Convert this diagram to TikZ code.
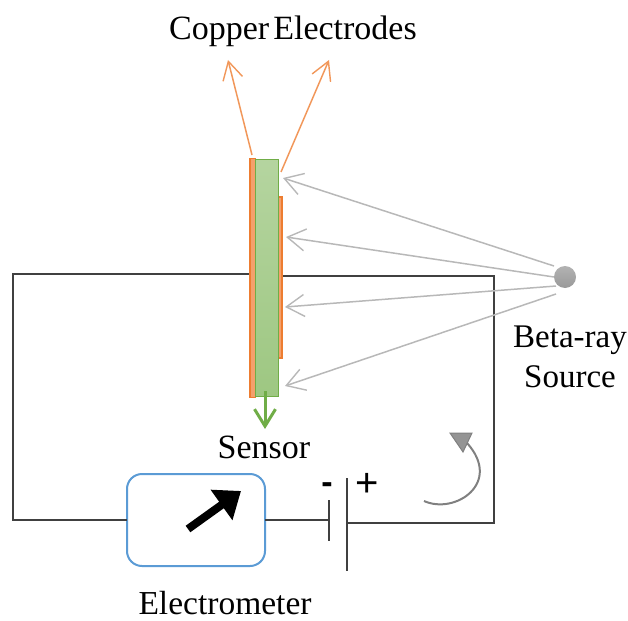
\documentclass[tikz,border=0pt]{standalone}
\usepackage{fontspec}
\setmainfont{Liberation Serif}
\newfontfamily\sansf{Liberation Sans}
\usetikzlibrary{arrows.meta,calc}
\definecolor{orangeE}{HTML}{ED7D31}
\definecolor{orangeF}{HTML}{F4A06C}
\definecolor{greenE}{HTML}{70AD47}
\definecolor{blueE}{HTML}{5B9BD5}
\tikzset{
  lbl/.style={inner sep=0pt,font=\fontsize{34}{40}\selectfont,text=black},
  wire/.style={draw=black!75,line width=1.4pt},
  ray/.style={draw=black!28,line width=1.5pt,-{Straight Barb[length=18pt,width=22pt,line width=1.4pt]}},
  cuarrow/.style={draw=orangeE!80,line width=1.5pt,-{Straight Barb[length=18pt,width=20pt,line width=1.4pt]}},
  electrode/.style={draw=orangeE,fill=orangeF,line width=1.2pt,inner sep=0pt,outer sep=0pt,anchor=north west},
}
\begin{document}
\begin{tikzpicture}[x=1pt,y=-1pt]
\useasboundingbox (0,0) rectangle (628,620);
% labels
\node[lbl] (title) at (293,31) {Copper\hspace{4pt}Electrodes};
\node[lbl] (sensorlabel) at (264,447) {Sensor};
\node[lbl,font=\fontsize{33.5}{40}\selectfont] (meterlabel) at (225,603) {Electrometer};
\node[lbl,align=center,font=\fontsize{33}{40}\selectfont] (betalabel) at (570,357) {Beta-ray\\Source};
% wires, behind the sensor
\node[draw=blueE,line width=2pt,rounded corners=15pt,minimum width=138pt,minimum height=92pt,inner sep=0pt,outer sep=0pt] (meter) at (196,520) {};
\coordinate (lwire) at (251,274);
\coordinate (rwire) at (281,276);
\coordinate (tl) at (13,274);
\coordinate (bl) at (13,520);
\coordinate (tr) at (494,276);
\coordinate (br) at (494,523);
\coordinate (platepos) at (347,523);
\coordinate (plateneg) at (329,520);
\draw[wire] (lwire) -- (tl) -- (bl) -- (meter.west |- bl);
\draw[wire] (rwire) -- (tr) -- (br) -- (platepos);
\draw[wire] (meter.east |- plateneg) -- (plateneg);
\coordinate (n1) at (329,500); \coordinate (n2) at (329,541);
\coordinate (p1) at (347,478); \coordinate (p2) at (347,571);
\draw[wire] (n1) -- (n2);
\draw[wire] (p1) -- (p2);
% sensor
\node[electrode,minimum width=5.5pt,minimum height=239pt] (eleft) at (250,158.5) {};
\node[electrode,minimum width=4.5pt,minimum height=161pt] (eright) at (277.5,197) {};
\node[draw=greenE,line width=1pt,inner sep=0pt,outer sep=0pt,anchor=north west,minimum width=23pt,minimum height=237pt,top color=greenE!52,bottom color=greenE!68] (sensor) at (255,159.5) {};
% source
\node[circle,draw=none,top color=black!30,bottom color=black!40,minimum size=22pt,inner sep=0pt] (source) at (565,277) {};
% rays
\coordinate (r1) at (283,178); \coordinate (r2) at (286,237);
\coordinate (r3) at (285,307); \coordinate (r4) at (285,386);
\coordinate (s1) at (554,266); \coordinate (s2) at (554,277);
\coordinate (s3) at (556,286); \coordinate (s4) at (556,294);
\draw[ray] (s1) -- (r1);
\draw[ray] (s2) -- (r2);
\draw[ray] (s3) -- (r3);
\draw[ray] (s4) -- (r4);
% copper arrows
\coordinate (c1) at (252,155); \coordinate (c1t) at (228,60);
\coordinate (c2) at (281,172); \coordinate (c2t) at (329,60);
\draw[cuarrow] (c1) -- (c1t);
\draw[cuarrow] (c2) -- (c2t);
% sensor arrow
\coordinate (g1) at (265,391); \coordinate (g2) at (265,429);
\draw[draw=greenE,line width=3pt,-{Straight Barb[length=17pt,width=21pt,line width=3pt]}] (g1) -- (g2);
% meter needle
\coordinate (m1) at (188,529); \coordinate (m2) at (241,491);
\draw[black,line width=8pt,-{Triangle[length=24pt,width=36pt]}] (m1) -- (m2);
% polarity
\node[inner sep=0pt,font=\sansf\bfseries\fontsize{34}{34}\selectfont] (minus) at (327,488) {-};
\node[inner sep=0pt,font=\sansf\fontsize{40}{40}\selectfont] (plus) at (367,485) {+};
% current arrow
\coordinate (a1) at (424,501); \coordinate (a2) at (467,443);
\draw[draw=black!50,line width=2pt] (a1) .. controls (455,515) and (503,483) .. (a2);
\coordinate (t1) at (450,433); \coordinate (t2) at (472,433); \coordinate (t3) at (463,452);
\draw[draw=black!50,fill=black!42,line width=1pt] (t1) -- (t2) -- (t3) -- cycle;
\end{tikzpicture}
\end{document}
